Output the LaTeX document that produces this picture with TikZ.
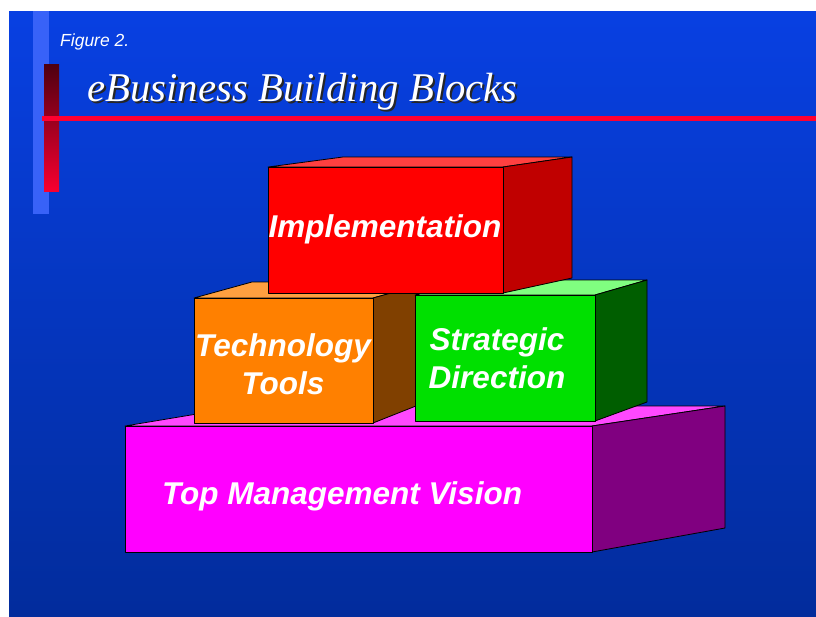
\documentclass[tikz,border=0pt]{standalone}
\usepackage{fontspec}
\setmainfont{Liberation Sans}
\newfontfamily\titlefont{Liberation Serif}
\usepackage{tikz}
\definecolor{slideTop}{HTML}{0840E2}
\definecolor{slideBottom}{HTML}{022C9C}
\definecolor{stripBlue}{HTML}{3862F8}
\definecolor{barDark}{HTML}{4E0010}
\definecolor{barRed}{HTML}{F80030}
\definecolor{ruleRed}{HTML}{FF0030}
\definecolor{visFront}{HTML}{FF00FF}
\definecolor{visSide}{HTML}{800080}
\definecolor{visTop}{HTML}{FF48FF}
\definecolor{techFront}{HTML}{FF8000}
\definecolor{techSide}{HTML}{804000}
\definecolor{techTop}{HTML}{FFA040}
\definecolor{stratFront}{HTML}{00E000}
\definecolor{stratSide}{HTML}{005E00}
\definecolor{stratTop}{HTML}{80FF80}
\definecolor{implFront}{HTML}{FF0000}
\definecolor{implSide}{HTML}{C00000}
\definecolor{implTop}{HTML}{FF4040}

\begin{document}
\begin{tikzpicture}[x=1pt,y=-1pt,
  face/.style={draw=black,line width=0.8pt,line join=round},
  blocklabel/.style={text=white,inner sep=0pt,align=center,
    font=\fontsize{31.5}{38}\selectfont\bfseries\itshape}]
\useasboundingbox (0,0) rectangle (816,616);
% slide background
\shade[top color=slideTop,bottom color=slideBottom] (9,11) rectangle (816,616);
\fill[stripBlue] (33,11) rectangle (49,214);
\shade[top color=barDark,bottom color=barRed] (44,64) rectangle (59,191);
\fill[ruleRed] (42,116) rectangle (816,121);
% heading
\node[anchor=base west,inner sep=0pt,text=white,font=\fontsize{17.5}{20}\selectfont\itshape]
  (figno) at (60,46.7) {Figure 2.};
\node[anchor=base west,inner sep=0pt,text=black!85,font=\fontsize{40.8}{46}\selectfont\titlefont\itshape]
  (titleshadow) at (89,103.7) {eBusiness Building Blocks};
\node[anchor=base west,inner sep=0pt,text=white,font=\fontsize{40.8}{46}\selectfont\titlefont\itshape]
  (title) at (87,101.7) {eBusiness Building Blocks};
% bottom block
\filldraw[face,fill=visTop] (125,426) -- (245,406) -- (725,406) -- (592,426) -- cycle;
\filldraw[face,fill=visSide] (592,426) -- (725,406) -- (725,528) -- (592,552) -- cycle;
\filldraw[face,fill=visFront] (125,426) rectangle (592,552);
% middle left block
\filldraw[face,fill=techTop] (194,298) -- (252,282) -- (431,282) -- (373,298) -- cycle;
\filldraw[face,fill=techSide] (373,298) -- (431,282) -- (431,400) -- (373,423) -- cycle;
\filldraw[face,fill=techFront] (194,298) rectangle (373,423);
% middle right block
\filldraw[face,fill=stratTop] (415,295) -- (466,280) -- (647,280) -- (595,295) -- cycle;
\filldraw[face,fill=stratSide] (595,295) -- (647,280) -- (647,402) -- (595,421) -- cycle;
\filldraw[face,fill=stratFront] (415,295) rectangle (595,421);
% top block
\filldraw[face,fill=implTop] (268,167) -- (343,157) -- (572,157) -- (503,167) -- cycle;
\filldraw[face,fill=implSide] (503,167) -- (572,157) -- (572,278) -- (503,293) -- cycle;
\filldraw[face,fill=implFront] (268,167) rectangle (503,293);
% labels
\node[blocklabel,anchor=base] (vision) at (342,504) {Top Management Vision};
\node[blocklabel] (tech) at (283,364) {Technology\\Tools};
\node[blocklabel] (strat) at (497,358) {Strategic\\Direction};
\node[blocklabel,anchor=base] (impl) at (385,237) {Implementation};
\end{tikzpicture}
\end{document}
